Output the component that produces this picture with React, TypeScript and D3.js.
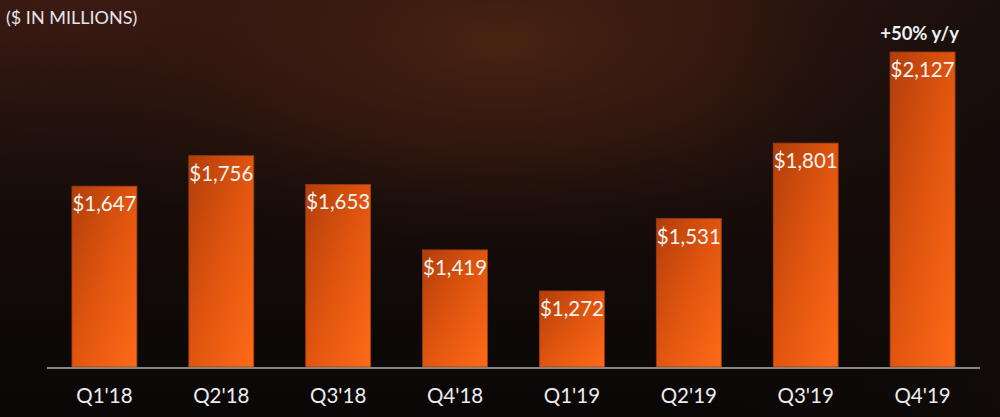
import React from "react";
import * as d3 from "d3";

const categories = ["Q1'18", "Q2'18", "Q3'18", "Q4'18", "Q1'19", "Q2'19", "Q3'19", "Q4'19"];
const values = [1647, 1756, 1653, 1419, 1272, 1531, 1801, 2127];
const valueLabels = ["$1,647", "$1,756", "$1,653", "$1,419", "$1,272", "$1,531", "$1,801", "$2,127"];
const unitTitle = "($ IN MILLIONS)";
const growthNote = "+50% y/y";

const W = 1000;
const H = 417;
const FONT = "Lato, 'Open Sans', sans-serif";

export default function App() {
  const x = d3.scaleBand<string>().domain(categories).range([46, 981]).paddingInner(0.444).paddingOuter(0.222);
  const y = d3.scaleLinear().domain([1000, 2127]).range([367, 52]);
  const base = y(1000);
  const last = categories[categories.length - 1];

  return (
    <svg width={W} height={H} style={{ display: "block", position: "absolute", left: 0, top: 0 }}>
      <defs>
        <linearGradient id="bgBase" x1="0" y1="0" x2="0" y2="1">
          <stop offset="0" stopColor="#2e1711" />
          <stop offset="0.5" stopColor="#150c09" />
          <stop offset="1" stopColor="#090706" />
        </linearGradient>
        <radialGradient id="glowC" cx="0.5" cy="0.1" r="0.55" gradientTransform="translate(0.05 0) scale(0.9 1)">
          <stop offset="0" stopColor="#4a2412" stopOpacity="0.95" />
          <stop offset="0.5" stopColor="#3a1a10" stopOpacity="0.6" />
          <stop offset="1" stopColor="#1a0e0a" stopOpacity="0" />
        </radialGradient>
        <radialGradient id="glowL" cx="0.1" cy="0.0" r="0.5">
          <stop offset="0" stopColor="#441d15" stopOpacity="0.95" />
          <stop offset="1" stopColor="#1a0e0a" stopOpacity="0" />
        </radialGradient>
        <linearGradient id="rightDark" x1="0" y1="0" x2="1" y2="0">
          <stop offset="0.7" stopColor="#120c0a" stopOpacity="0" />
          <stop offset="1" stopColor="#120c0a" stopOpacity="0.7" />
        </linearGradient>
        <linearGradient id="barFill" x1="0" y1="0" x2="1" y2="1">
          <stop offset="0" stopColor="#b23e0a" />
          <stop offset="0.5" stopColor="#e0550f" />
          <stop offset="1" stopColor="#ff6a18" />
        </linearGradient>
      </defs>
      <rect x={0} y={0} width={W} height={H} fill="url(#bgBase)" />
      <rect x={0} y={0} width={W} height={H} fill="url(#glowL)" />
      <rect x={0} y={0} width={W} height={H} fill="url(#glowC)" />
      <rect x={0} y={0} width={W} height={H} fill="url(#rightDark)" />

      <text x={6} y={24} fill="#e4e4ec" fontFamily={FONT} fontSize={18}>{unitTitle}</text>

      {categories.map((c, i) => {
        const bx = x(c)!;
        const by = y(values[i]);
        return (
          <g key={c}>
            <rect x={bx} y={by} width={x.bandwidth()} height={base - by} fill="url(#barFill)" stroke="#9a3a12" strokeWidth={0.8} />
            <text x={bx + x.bandwidth() / 2} y={by + 25} fill="#f6f3f0" fontFamily={FONT} fontSize={20.5} textAnchor="middle">
              {valueLabels[i]}
            </text>
            <text x={bx + x.bandwidth() / 2} y={403} fill="#ececf0" fontFamily={FONT} fontSize={20.5} textAnchor="middle">
              {c}
            </text>
          </g>
        );
      })}

      <line x1={47} x2={980} y1={368} y2={368} stroke="#858585" strokeWidth={2} />

      <text x={x(last)! + x.bandwidth() / 2 - 3} y={40} fill="#eef0f4" fontFamily={FONT} fontSize={18.5} fontWeight={700} textAnchor="middle">
        {growthNote}
      </text>
    </svg>
  );
}
